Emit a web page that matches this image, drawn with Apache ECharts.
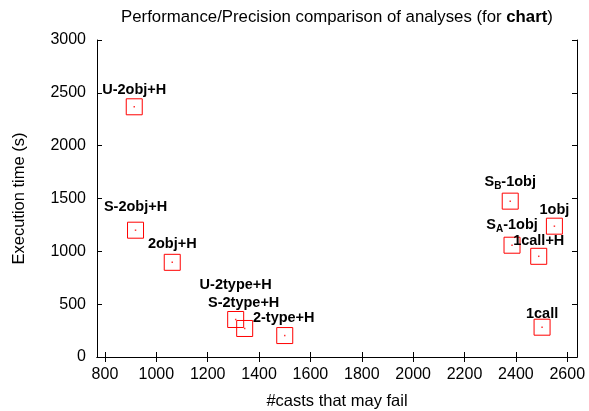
<!DOCTYPE html>
<html>
<head>
<meta charset="utf-8">
<script src="https://cdn.jsdelivr.net/npm/echarts@6/dist/echarts.min.js"></script>
<style>
html,body{margin:0;padding:0;background:#fff;}
#chart{width:589px;height:411px;}
</style>
</head>
<body>
<div id="chart"></div>
<script>
var names = ['U-2obj+H','S-2obj+H','2obj+H','U-2type+H','S-2type+H','2-type+H','S_B-1obj','1obj','S_A-1obj','1call+H','1call'];
var casts = [914, 919, 1062, 1309, 1344, 1500, 2378, 2550, 2385, 2489, 2502];
var times = [2368, 1200, 896, 355, 270, 203, 1475, 1238, 1058, 953, 282];
var labelOffsets = [[0,-17],[0,-23],[0,-18],[0,-34],[-1,-25],[-1,-18],[0,-19],[0,-16],[0,-20],[0,-15],[0,-13]];
var xTicks = [800,1000,1200,1400,1600,1800,2000,2200,2400,2600];
var yTicks = [0,500,1000,1500,2000,2500,3000];

var FONT = 'Liberation Sans';

function fmtLabel(n){
  var m = n.match(/^S_([AB])(.*)$/);
  if (m) return '{m|S}{s|' + m[1] + '}{m|' + m[2] + '}';
  return '{m|' + n + '}';
}
function plain(v){ return String(v); }

var boxData = [], dotData = [];
for (var i = 0; i < names.length; i++) {
  boxData.push({
    value: [casts[i], times[i]],
    name: names[i],
    label: { offset: labelOffsets[i] }
  });
  dotData.push([casts[i], times[i]]);
}

var chart = echarts.init(document.getElementById('chart'));
var axisLine = { show: true, lineStyle: { color: '#000', width: 1 } };
chart.setOption({
  animation: false,
  title: {
    text: 'Performance/Precision comparison of analyses (for {b|chart})',
    left: 332, top: 4, textAlign: 'center',
    textStyle: {
      fontFamily: FONT, fontSize: 16.8, fontWeight: 'normal', color: '#000',
      rich: { b: { fontFamily: FONT, fontSize: 16.8, fontWeight: 'bold', color: '#000' } }
    }
  },
  grid: { left: 97, right: 12, top: 40, bottom: 54, containLabel: false, outerBoundsMode: 'none' },
  xAxis: [{
    type: 'value', min: 769, max: 2638, position: 'bottom',
    name: '#casts that may fail', nameLocation: 'middle', nameGap: 36,
    nameTextStyle: { fontFamily: FONT, fontSize: 16.5, color: '#000' },
    axisLine: axisLine,
    axisTick: { show: true, inside: true, length: 5, customValues: xTicks, lineStyle: { color: '#000' } },
    axisLabel: { show: true, customValues: xTicks, formatter: plain, margin: 10, fontFamily: FONT, fontSize: 16, color: '#000' },
    splitLine: { show: false }
  }, {
    type: 'value', min: 769, max: 2638, position: 'top',
    axisLine: axisLine,
    axisTick: { show: true, inside: true, length: 5, customValues: xTicks, lineStyle: { color: '#000' } },
    axisLabel: { show: false },
    splitLine: { show: false }
  }],
  yAxis: [{
    type: 'value', min: 0, max: 3000, interval: 500, position: 'left',
    name: 'Execution time (s)', nameLocation: 'middle', nameGap: 69,
    nameTextStyle: { fontFamily: FONT, fontSize: 16.5, color: '#000' },
    axisLine: axisLine,
    axisTick: { show: true, inside: true, length: 5, customValues: yTicks, lineStyle: { color: '#000' } },
    axisLabel: { margin: 11, customValues: yTicks, formatter: plain, fontFamily: FONT, fontSize: 16, color: '#000' },
    splitLine: { show: false }
  }, {
    type: 'value', min: 0, max: 3000, interval: 500, position: 'right',
    axisLine: axisLine,
    axisTick: { show: true, inside: true, length: 5, customValues: yTicks, lineStyle: { color: '#000' } },
    axisLabel: { show: false },
    splitLine: { show: false }
  }],
  series: [{
    type: 'scatter',
    xAxisIndex: 0, yAxisIndex: 0,
    symbol: 'rect', symbolSize: 16,
    itemStyle: { color: 'rgba(0,0,0,0)', borderColor: '#ff0000', borderWidth: 1, opacity: 1 },
    label: {
      show: true, position: 'inside',
      formatter: function(p){ return fmtLabel(p.name); },
      rich: {
        m: { fontFamily: FONT, fontSize: 14.5, fontWeight: 'bold', color: '#000', lineHeight: 18 },
        s: { fontFamily: FONT, fontSize: 10, fontWeight: 'bold', color: '#000', lineHeight: 10, verticalAlign: 'bottom' }
      }
    },
    emphasis: { disabled: true },
    data: boxData
  }, {
    type: 'scatter',
    xAxisIndex: 0, yAxisIndex: 0,
    symbol: 'rect', symbolSize: 1.5,
    itemStyle: { color: '#ff0000' },
    emphasis: { disabled: true },
    data: dotData
  }]
});
</script>
</body>
</html>
